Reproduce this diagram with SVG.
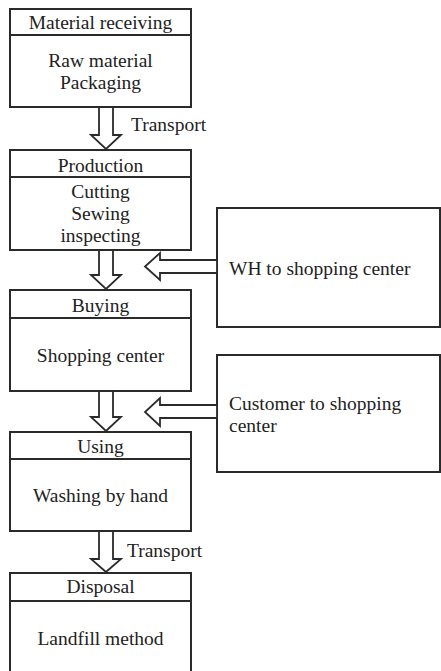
<svg xmlns="http://www.w3.org/2000/svg" width="441" height="671" viewBox="0 0 441 671">
  <style>
    .box { fill: #fff; stroke: #2a2a2a; stroke-width: 2; }
    .div { stroke: #2a2a2a; stroke-width: 2; }
    .arr { fill: #fff; stroke: #2a2a2a; stroke-width: 1.8; stroke-linejoin: miter; }
    text { font-size: 19.5px; fill: #222; }
    .c { text-anchor: middle; }
  </style>
  <rect width="441" height="671" fill="#fff"/>

  <g font-family="'Liberation Serif', 'DejaVu Serif', serif">
  <!-- stage boxes -->
  <g id="material-receiving">
    <rect class="box" x="10" y="9" width="181" height="98"/>
    <line class="div" x1="10" y1="35" x2="191" y2="35"/>
    <text class="c" x="100.5" y="29">Material receiving</text>
    <text class="c" x="100.5" y="67">Raw material</text>
    <text class="c" x="100.5" y="89">Packaging</text>
  </g>

  <g id="production">
    <rect class="box" x="10" y="150" width="181" height="100"/>
    <line class="div" x1="10" y1="177" x2="191" y2="177"/>
    <text class="c" x="100.5" y="172">Production</text>
    <text class="c" x="100.5" y="198">Cutting</text>
    <text class="c" x="100.5" y="220">Sewing</text>
    <text class="c" x="100.5" y="242">inspecting</text>
  </g>

  <g id="buying">
    <rect class="box" x="10" y="290" width="181" height="101"/>
    <line class="div" x1="10" y1="318" x2="191" y2="318"/>
    <text class="c" x="100.5" y="312">Buying</text>
    <text class="c" x="100.5" y="362">Shopping center</text>
  </g>

  <g id="using">
    <rect class="box" x="10" y="432" width="181" height="99"/>
    <line class="div" x1="10" y1="459" x2="191" y2="459"/>
    <text class="c" x="100.5" y="453">Using</text>
    <text class="c" x="100.5" y="502">Washing by hand</text>
  </g>

  <g id="disposal">
    <rect class="box" x="10" y="573" width="181" height="110"/>
    <line class="div" x1="10" y1="601" x2="191" y2="601"/>
    <text class="c" x="100.5" y="593">Disposal</text>
    <text class="c" x="100.5" y="645">Landfill method</text>
  </g>

  <!-- transport side boxes -->
  <g id="wh-to-shopping-center">
    <rect class="box" x="217" y="208" width="223" height="119"/>
    <text x="229" y="275">WH to shopping center</text>
  </g>

  <g id="customer-to-shopping-center">
    <rect class="box" x="217" y="355" width="223" height="117"/>
    <text x="229" y="410">Customer to shopping</text>
    <text x="229" y="432">center</text>
  </g>

  <!-- block arrows -->
  <g id="connectors">
    <polygon class="arr" points="99,107 113,107 113,135 121,135 106,149 91,135 99,135"/>
    <polygon class="arr" points="99,250 113,250 113,275 121,275 106,289 91,275 99,275"/>
    <polygon class="arr" points="99,391 113,391 113,417 121,417 106,431 91,417 99,417"/>
    <polygon class="arr" points="99,531 113,531 113,559 121,559 106,572 91,559 99,559"/>
    <polygon class="arr" points="217,260 160,260 160,253 145,266.5 160,280 160,273 217,273"/>
    <polygon class="arr" points="217,405 160,405 160,398 145,412 160,426 160,418 217,418"/>
    <text x="131" y="131">Transport</text>
    <text x="127" y="557">Transport</text>
  </g>
  </g>
</svg>
